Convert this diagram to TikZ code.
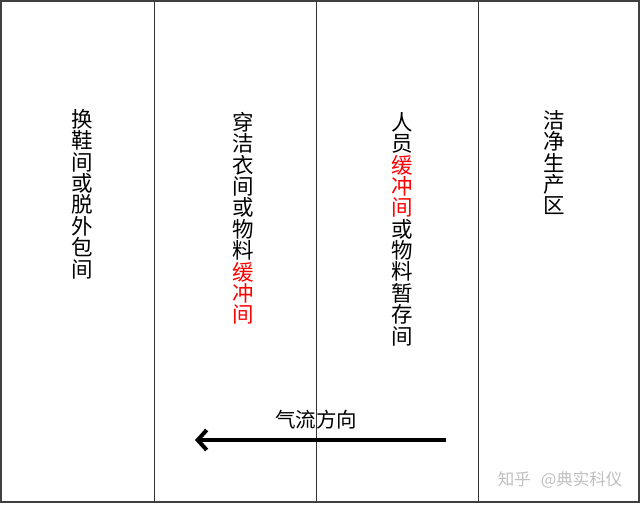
\documentclass[tikz,border=0pt]{standalone}
\usepackage{fontspec}
\newfontfamily\cjk{Noto Sans CJK SC}
\usetikzlibrary{arrows.meta,positioning}
\newcommand\roomfont{\cjk\fontsize{21.5}{21.4}\selectfont\lineskiplimit=-10pt\relax}

\begin{document}
\begin{tikzpicture}[x=1pt,y=-1pt]
    \tikzset{room/.style= {anchor=north, inner sep=0pt
    , text width=1.2em
    , align=center
    , font=\roomfont
      }
    , wall/.style={draw=black!80, line width=1pt}
    }

\useasboundingbox (0,0) rectangle (640,504);
\fill[white] (0,0) rectangle (640,504);
\draw[line width=1.5pt, draw=black!75] (1,1) rectangle (639,502);

\coordinate (top1) at (154,1);
\coordinate (bot1) at (154,502);
\coordinate (top2) at (316,1);
\coordinate (bot2) at (316,502);
\coordinate (top3) at (478,1);
\coordinate (bot3) at (478,502);
\path[wall] (top1) -- (bot1) (top2) -- (bot2) (top3) -- (bot3);

\node [room] (room0) at (77,109) {换\\鞋\\间\\或\\脱\\外\\包\\间};
\node [room] (room1) at (238,112) {穿\\洁\\衣\\间\\或\\物\\料\\\textcolor{red}{缓}\\\textcolor{red}{冲}\\\textcolor{red}{间}};
\node [room] (room2) at (397,112) {人\\员\\\textcolor{red}{缓}\\\textcolor{red}{冲}\\\textcolor{red}{间}\\或\\物\\料\\暂\\存\\间};
\node [room] (room3) at (549,110) {洁\\净\\生\\产\\区};

\coordinate (flowstart) at (446,440);
\coordinate (flowend) at (195,440);
\draw[line width=4pt, -{Straight Barb[length=9pt,width=20pt,line width=4pt]}] (flowstart) -- (flowend);
\node [font=\cjk\fontsize{20.5}{24}\selectfont] (flow) at (316,420) {气流方向};

\node [font=\cjk\fontsize{16.5}{18}\selectfont, text=black!25, anchor=east] (mark) at (626,480) {知乎\hspace{0.6em}@典实科仪};
\end{tikzpicture}
\end{document}
